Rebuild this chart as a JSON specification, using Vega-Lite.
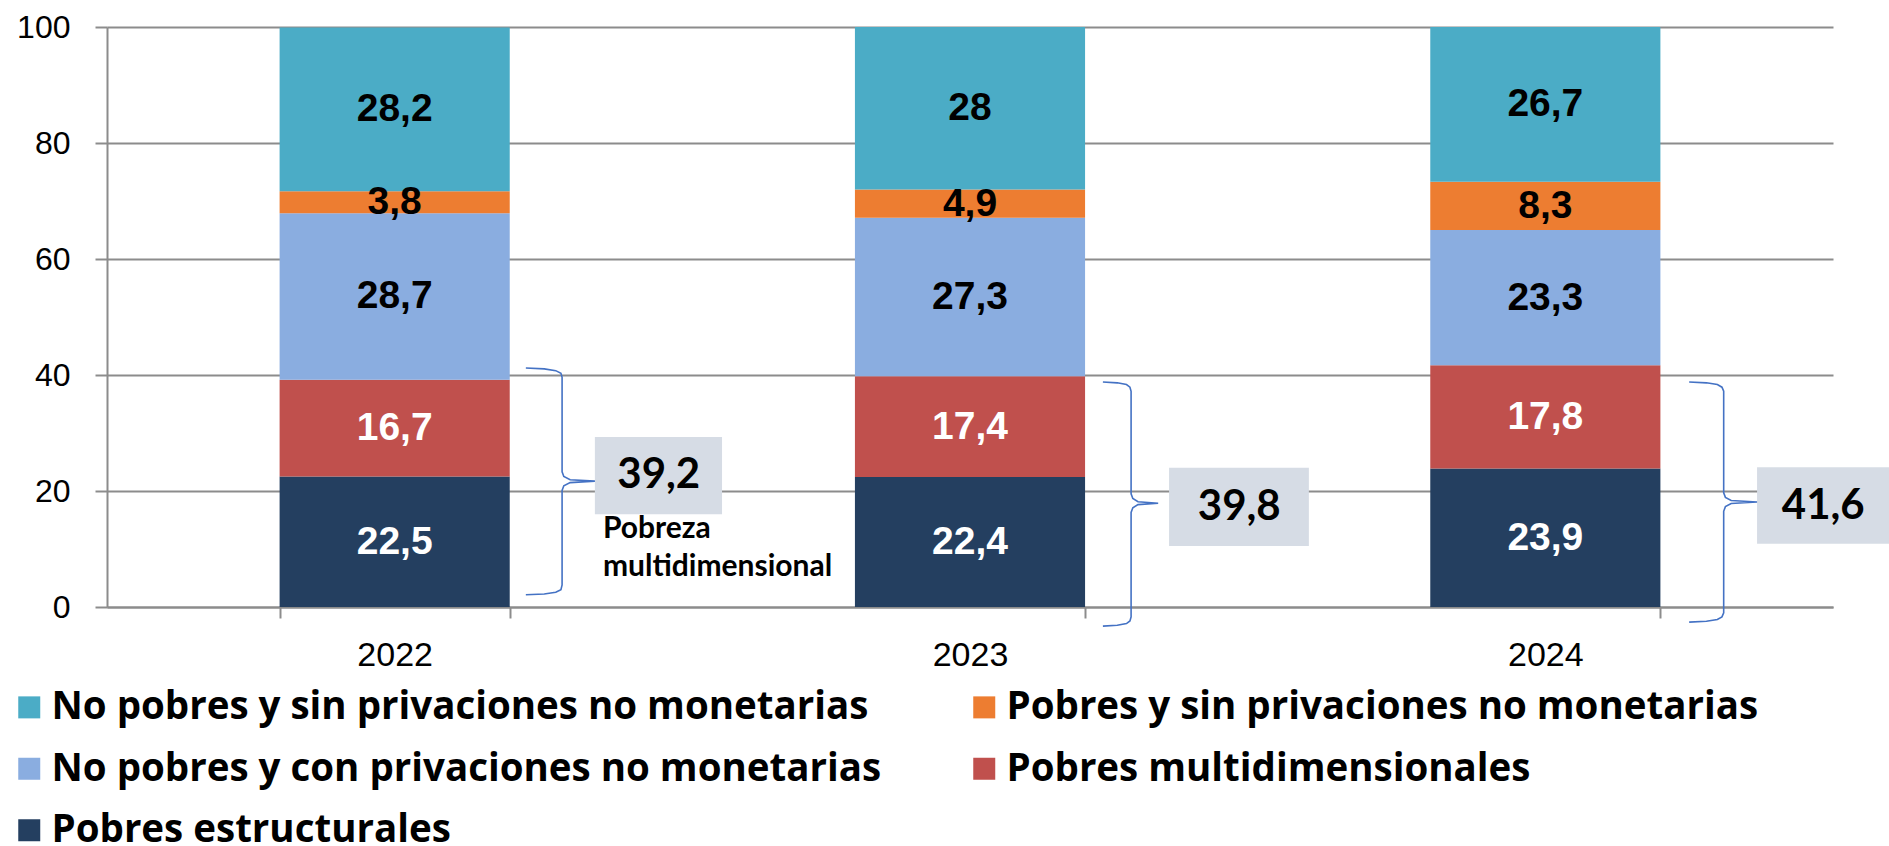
{
  "$schema": "https://vega.github.io/schema/vega-lite/v6.json",
  "autosize": "none",
  "width": 1726,
  "height": 580,
  "padding": {"left": 107, "top": 27, "right": 56, "bottom": 239},
  "background": "white",
  "config": {
    "view": {"stroke": null},
    "locale": {"number": {"decimal": ",", "thousands": ".", "grouping": [3], "currency": ["", ""]}}
  },
  "datasets": {
    "bars": [
      {"year": "2022", "cat": "Pobres estructurales", "ord": 1, "value": 22.5},
      {"year": "2022", "cat": "Pobres multidimensionales", "ord": 2, "value": 16.7},
      {"year": "2022", "cat": "No pobres y con privaciones no monetarias", "ord": 3, "value": 28.7},
      {"year": "2022", "cat": "Pobres y sin privaciones no monetarias", "ord": 4, "value": 3.8},
      {"year": "2022", "cat": "No pobres y sin privaciones no monetarias", "ord": 5, "value": 28.2},
      {"year": "2023", "cat": "Pobres estructurales", "ord": 1, "value": 22.4},
      {"year": "2023", "cat": "Pobres multidimensionales", "ord": 2, "value": 17.4},
      {"year": "2023", "cat": "No pobres y con privaciones no monetarias", "ord": 3, "value": 27.3},
      {"year": "2023", "cat": "Pobres y sin privaciones no monetarias", "ord": 4, "value": 4.9},
      {"year": "2023", "cat": "No pobres y sin privaciones no monetarias", "ord": 5, "value": 28},
      {"year": "2024", "cat": "Pobres estructurales", "ord": 1, "value": 23.9},
      {"year": "2024", "cat": "Pobres multidimensionales", "ord": 2, "value": 17.8},
      {"year": "2024", "cat": "No pobres y con privaciones no monetarias", "ord": 3, "value": 23.3},
      {"year": "2024", "cat": "Pobres y sin privaciones no monetarias", "ord": 4, "value": 8.3},
      {"year": "2024", "cat": "No pobres y sin privaciones no monetarias", "ord": 5, "value": 26.7}
    ],
    "brace": [
      {"g": "2022", "i": 1, "x": 0.728, "y": 41.2},
      {"g": "2022", "i": 2, "x": 0.76, "y": 41.05},
      {"g": "2022", "i": 3, "x": 0.78, "y": 40.75},
      {"g": "2022", "i": 4, "x": 0.789, "y": 40.3},
      {"g": "2022", "i": 5, "x": 0.791, "y": 39.6},
      {"g": "2022", "i": 6, "x": 0.791, "y": 23.3},
      {"g": "2022", "i": 7, "x": 0.794, "y": 22.5},
      {"g": "2022", "i": 8, "x": 0.805, "y": 21.95},
      {"g": "2022", "i": 9, "x": 0.848, "y": 21.7},
      {"g": "2022", "i": 10, "x": 0.805, "y": 21.45},
      {"g": "2022", "i": 11, "x": 0.794, "y": 20.9},
      {"g": "2022", "i": 12, "x": 0.791, "y": 20.1},
      {"g": "2022", "i": 13, "x": 0.791, "y": 3.8},
      {"g": "2022", "i": 14, "x": 0.789, "y": 3.0},
      {"g": "2022", "i": 15, "x": 0.78, "y": 2.55},
      {"g": "2022", "i": 16, "x": 0.76, "y": 2.25},
      {"g": "2022", "i": 17, "x": 0.728, "y": 2.1},
      {"g": "2023", "i": 1, "x": 1.731, "y": 38.8},
      {"g": "2023", "i": 2, "x": 1.756, "y": 38.65},
      {"g": "2023", "i": 3, "x": 1.772, "y": 38.35},
      {"g": "2023", "i": 4, "x": 1.778, "y": 37.9},
      {"g": "2023", "i": 5, "x": 1.78, "y": 37.2},
      {"g": "2023", "i": 6, "x": 1.78, "y": 19.5},
      {"g": "2023", "i": 7, "x": 1.783, "y": 18.7},
      {"g": "2023", "i": 8, "x": 1.792, "y": 18.15},
      {"g": "2023", "i": 9, "x": 1.827, "y": 17.9},
      {"g": "2023", "i": 10, "x": 1.792, "y": 17.65},
      {"g": "2023", "i": 11, "x": 1.783, "y": 17.1},
      {"g": "2023", "i": 12, "x": 1.78, "y": 16.3},
      {"g": "2023", "i": 13, "x": 1.78, "y": -1.7},
      {"g": "2023", "i": 14, "x": 1.778, "y": -2.4},
      {"g": "2023", "i": 15, "x": 1.772, "y": -2.85},
      {"g": "2023", "i": 16, "x": 1.756, "y": -3.15},
      {"g": "2023", "i": 17, "x": 1.731, "y": -3.3},
      {"g": "2024", "i": 1, "x": 2.75, "y": 38.8},
      {"g": "2024", "i": 2, "x": 2.78, "y": 38.65},
      {"g": "2024", "i": 3, "x": 2.799, "y": 38.35},
      {"g": "2024", "i": 4, "x": 2.807, "y": 37.9},
      {"g": "2024", "i": 5, "x": 2.81, "y": 37.2},
      {"g": "2024", "i": 6, "x": 2.81, "y": 19.7},
      {"g": "2024", "i": 7, "x": 2.813, "y": 18.9},
      {"g": "2024", "i": 8, "x": 2.823, "y": 18.35},
      {"g": "2024", "i": 9, "x": 2.868, "y": 18.1},
      {"g": "2024", "i": 10, "x": 2.823, "y": 17.85},
      {"g": "2024", "i": 11, "x": 2.813, "y": 17.3},
      {"g": "2024", "i": 12, "x": 2.81, "y": 16.5},
      {"g": "2024", "i": 13, "x": 2.81, "y": -1.0},
      {"g": "2024", "i": 14, "x": 2.807, "y": -1.7},
      {"g": "2024", "i": 15, "x": 2.799, "y": -2.15},
      {"g": "2024", "i": 16, "x": 2.78, "y": -2.45},
      {"g": "2024", "i": 17, "x": 2.75, "y": -2.6}
    ],
    "boxes": [
      {"year": "2022", "x": 0.848, "x2": 1.069, "y": 16.0, "y2": 29.3, "tx": 0.959, "ty": 22.7, "total": 39.2},
      {"year": "2023", "x": 1.846, "x2": 2.089, "y": 10.5, "y2": 24.0, "tx": 1.968, "ty": 17.2, "total": 39.8},
      {"year": "2024", "x": 2.868, "x2": 3.1, "y": 10.9, "y2": 24.1, "tx": 2.983, "ty": 17.5, "total": 41.6}
    ],
    "notes": [
      {"x": 0.862, "y": 11.9, "t": "Pobreza"},
      {"x": 0.862, "y": 5.3, "t": "multidimensional"}
    ]
  },
  "layer": [
    {
      "data": {"name": "bars"},
      "encoding": {
        "x": {
          "field": "year", "type": "nominal",
          "scale": {"paddingInner": 0.6, "paddingOuter": 0.3},
          "axis": {
            "title": null, "labelAngle": 0, "labelFont": "Liberation Sans", "labelFontSize": 34,
            "labelColor": "black", "labelPadding": 20, "tickBand": "extent", "tickSize": 11,
            "tickColor": "#8c8c8c", "tickWidth": 2, "domainColor": "#8c8c8c", "domainWidth": 2, "grid": false
          }
        },
        "y": {
          "field": "value", "type": "quantitative", "stack": "zero",
          "scale": {"domain": [0, 100], "nice": false},
          "axis": {
            "title": null, "values": [0, 20, 40, 60, 80, 100], "labelFont": "Liberation Sans", "labelFontSize": 32,
            "labelColor": "black", "labelPadding": 25, "tickSize": 12, "tickColor": "#8c8c8c", "tickWidth": 2,
            "domainColor": "#8c8c8c", "domainWidth": 2, "grid": true, "gridColor": "#8c8c8c", "gridWidth": 2
          }
        },
        "order": {"field": "ord", "type": "quantitative"}
      },
      "layer": [
        {
          "mark": {"type": "bar"},
          "encoding": {
            "color": {
              "field": "cat", "type": "nominal",
              "scale": {
                "domain": [
                  "No pobres y sin privaciones no monetarias",
                  "No pobres y con privaciones no monetarias",
                  "Pobres estructurales",
                  "Pobres y sin privaciones no monetarias",
                  "Pobres multidimensionales"
                ],
                "range": ["#4BACC6", "#8AADE0", "#243F60", "#ED7D31", "#C0504D"]
              },
              "legend": {
                "title": null, "orient": "none", "legendX": -97, "legendY": 661, "columns": 2,
                "symbolType": "square", "symbolSize": 484, "symbolStrokeWidth": 0, "labelOffset": 3,
                "labelFont": "Open Sans", "labelFontSize": 38.5, "labelFontWeight": "bold", "labelColor": "black",
                "labelLimit": 2000, "rowPadding": 22.5, "columnPadding": 83
              }
            }
          }
        },
        {
          "mark": {"type": "text", "font": "Liberation Sans", "fontSize": 39, "fontWeight": "bold", "baseline": "middle"},
          "encoding": {
            "y": {"field": "value", "type": "quantitative", "stack": "zero", "bandPosition": 0.5},
            "text": {"field": "value", "type": "quantitative", "format": ".1~f"},
            "color": {
              "condition": {"test": "datum.cat === 'Pobres estructurales' || datum.cat === 'Pobres multidimensionales'", "value": "white"},
              "value": "black"
            }
          }
        }
      ]
    },
    {
      "layer": [
        {
          "data": {"name": "boxes"},
          "mark": {"type": "rect", "color": "#D6DCE5"},
          "encoding": {
            "x": {"field": "x", "type": "quantitative", "scale": {"domain": [0, 3]}, "axis": null},
            "x2": {"field": "x2"},
            "y": {"field": "y", "type": "quantitative", "scale": {"domain": [0, 100], "nice": false}},
            "y2": {"field": "y2"}
          }
        },
        {
          "data": {"name": "brace"},
          "mark": {"type": "line", "color": "#4472C4", "strokeWidth": 1.6},
          "encoding": {
            "x": {"field": "x", "type": "quantitative", "scale": {"domain": [0, 3]}, "axis": null},
            "y": {"field": "y", "type": "quantitative", "scale": {"domain": [0, 100], "nice": false}},
            "detail": {"field": "g", "type": "nominal"},
            "order": {"field": "i", "type": "quantitative"}
          }
        },
        {
          "data": {"name": "boxes"},
          "mark": {"type": "text", "font": "Lato", "fontSize": 42, "fontWeight": "bold", "color": "black", "baseline": "middle"},
          "encoding": {
            "x": {"field": "tx", "type": "quantitative", "scale": {"domain": [0, 3]}, "axis": null},
            "y": {"field": "ty", "type": "quantitative", "scale": {"domain": [0, 100], "nice": false}},
            "text": {"field": "total", "type": "quantitative", "format": ".1f"}
          }
        },
        {
          "data": {"name": "notes"},
          "mark": {"type": "text", "font": "Lato", "fontSize": 30, "fontWeight": "bold", "color": "black", "align": "left", "baseline": "alphabetic"},
          "encoding": {
            "x": {"field": "x", "type": "quantitative", "scale": {"domain": [0, 3]}, "axis": null},
            "y": {"field": "y", "type": "quantitative", "scale": {"domain": [0, 100], "nice": false}},
            "text": {"field": "t", "type": "nominal"}
          }
        }
      ]
    }
  ],
  "resolve": {"scale": {"x": "independent"}}
}
